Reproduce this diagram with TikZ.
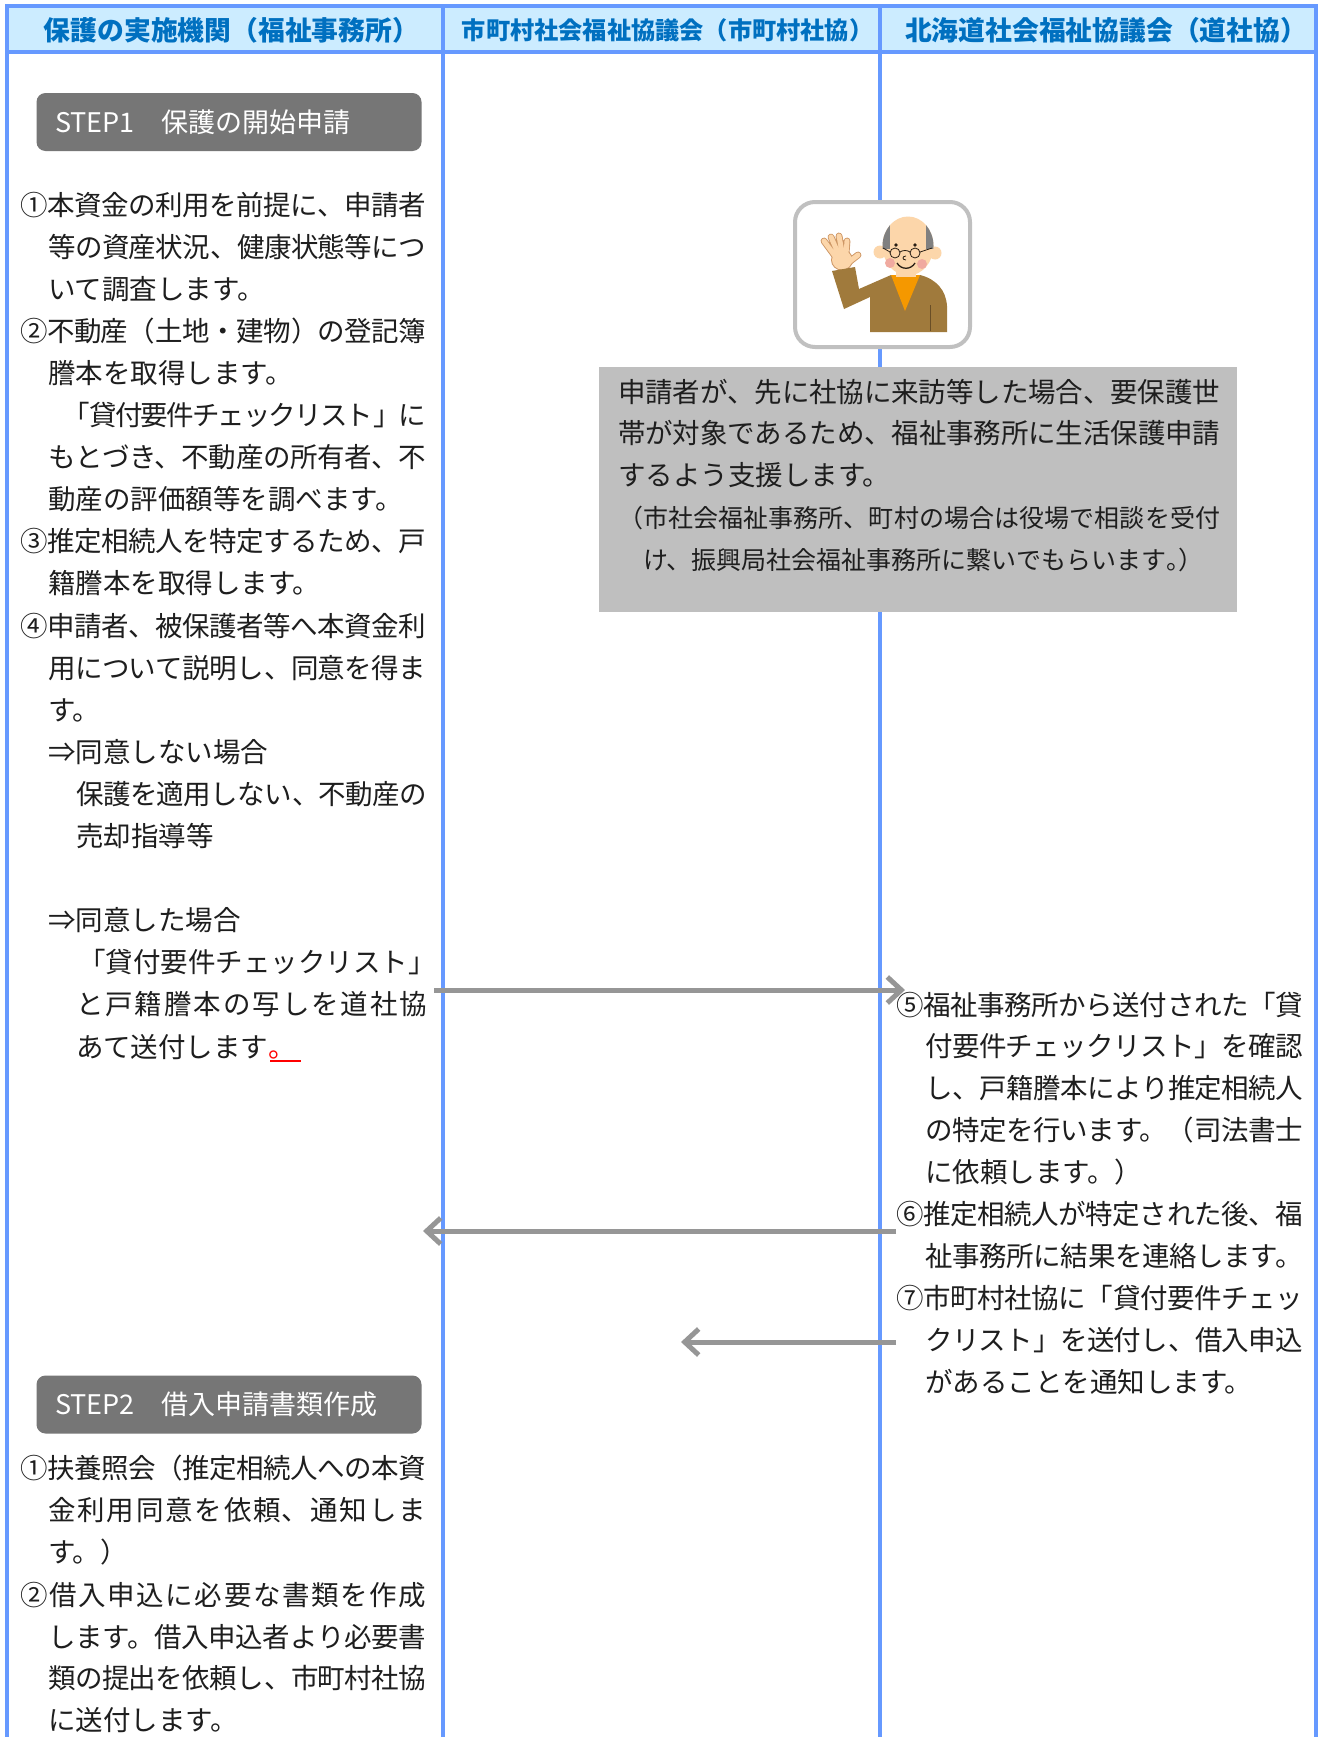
\documentclass[tikz,border=0pt]{standalone}
\usepackage{fontspec}
\setmainfont{Noto Sans CJK JP}
\usetikzlibrary{arrows.meta,calc}

% Japanese line breaking: stretchable glue between characters, so that a
% single line can be set flush to a given width
\XeTeXlinebreaklocale "ja"
\XeTeXlinebreakskip=0pt plus 4pt minus 3pt

\definecolor{lanefill}{RGB}{204,236,255}
\definecolor{laneline}{RGB}{102,153,255}
\definecolor{headtext}{RGB}{0,112,192}
\definecolor{stepfill}{RGB}{118,118,118}
\definecolor{notefill}{RGB}{191,191,191}
\definecolor{flowgray}{RGB}{150,150,150}
\definecolor{framegray}{RGB}{192,192,192}
\definecolor{bodyink}{RGB}{30,30,30}
\definecolor{skin}{RGB}{252,214,170}
\definecolor{handline}{RGB}{205,150,100}
\definecolor{sweater}{RGB}{160,122,60}
\definecolor{seam}{RGB}{105,78,38}
\definecolor{shirt}{RGB}{245,152,0}
\definecolor{hair}{RGB}{128,128,128}
\definecolor{cheek}{RGB}{240,170,160}
\definecolor{faceline}{RGB}{40,30,20}

% one line of text set flush to a width given in pt
\newcommand\fitline[2]{\parbox[b]{#1pt}{\parfillskip=0pt\tolerance=10000\hbadness=10000\relax #2}}
% punctuation set in half width
\newcommand\halfpunct[1]{{\addfontfeature{RawFeature=+halt}#1}}

\tikzset{
  lanehead/.style={inner sep=0, text=headtext, font=\fontsize{26.8}{30}\selectfont\bfseries},
  bodytext/.style={anchor=base west, inner sep=0, text=bodyink, font=\fontsize{27.5}{33}\selectfont},
  smalltext/.style={anchor=base west, inner sep=0, text=bodyink, font=\fontsize{25}{30}\selectfont},
  stepbox/.style={fill=stepfill, rounded corners=9, minimum width=385, minimum height=58,
    text width=348, inner xsep=18.5, inner ysep=0, align=left, text=white,
    font=\fontsize{27}{32}\selectfont},
  notebox/.style={fill=notefill, inner sep=0, minimum width=638, minimum height=245},
  portraitframe/.style={draw=framegray, line width=4, fill=white, rounded corners=20,
    inner sep=0, minimum width=175, minimum height=145},
  lane/.style={draw=laneline, line width=4},
  flow/.style={draw=flowgray, line width=5, -{Straight Barb[length=14pt,width=26pt]}},
}

\begin{document}
\begin{tikzpicture}[x=1pt,y=-1pt]
\useasboundingbox (0,0) rectangle (1319,1737);
\fill[white] (0,0) rectangle (1319,1737);

% ---------- lanes ----------
\fill[lanefill] (6.5,6) rectangle (1315.5,52);
\draw[lane] (6.5,1737) -- (6.5,6) -- (1315.5,6) -- (1315.5,1737);
\draw[lane] (6.5,52) -- (1315.5,52);
\draw[lane] (443,6) -- (443,1737);
\draw[lane] (880,6) -- (880,1737);

\node[lanehead] (h1) at (231.5,30) {保護の実施機関（福祉事務所）};
\node[lanehead, font=\fontsize{24.2}{28}\selectfont\bfseries] (h2) at (667.5,30.5) {市町村社会福祉協議会（市町村社協）};
\node[lanehead] (h3) at (1106,30) {北海道社会福祉協議会（道社協）};

% ---------- STEP 1 ----------
\node[stepbox] (step1) at (229,122) {STEP1　保護の開始申請};

\node[bodytext] (a01) at (20,215) {\fitline{406}{①本資金の利用を前提に、申請者}};
\node[bodytext] (a02) at (48,257.1) {\fitline{378}{等の資産状況、健康状態等につ}};
\node[bodytext] (a03) at (48,299.2) {いて調査します。};
\node[bodytext] (a04) at (20,341.3) {\fitline{406}{②不動産（土地・建物）の登記簿}};
\node[bodytext] (a05) at (48,383.4) {謄本を取得します。};
\node[bodytext] (a06) at (62,425.5) {\fitline{364}{「貸付要件チェックリスト」に}};
\node[bodytext] (a07) at (48,467.6) {\fitline{378}{もとづき、不動産の所有者、不}};
\node[bodytext] (a08) at (48,509.7) {動産の評価額等を調べます。};
\node[bodytext] (a09) at (20,551.8) {\fitline{406}{③推定相続人を特定するため、戸}};
\node[bodytext] (a10) at (48,593.9) {籍謄本を取得します。};
\node[bodytext] (a11) at (20,636) {\fitline{406}{④申請者、被保護者等へ本資金利}};
\node[bodytext] (a12) at (48,678.1) {\fitline{378}{用について説明し、同意を得ま}};
\node[bodytext] (a13) at (48,720.2) {す。};
\node[bodytext] (a14) at (48,762.3) {⇒同意しない場合};
\node[bodytext] (a15) at (76,804.4) {\fitline{351}{保護を適用しない、不動産の}};
\node[bodytext] (a16) at (76,846.5) {売却指導等};
\node[bodytext] (a18) at (48,930.7) {⇒同意した場合};
\node[bodytext] (a19) at (78,972.8) {「貸付要件チェックリスト」};
\node[bodytext] (a20) at (76,1014.9) {\fitline{351}{と戸籍謄本の写しを道社協}};
\node[bodytext] (a21) at (76,1057) {あて送付します};
\node[bodytext, text=red] (a21dot) at (a21.base east) {。};
\draw[red, line width=1.4] ($(a21dot.base west)+(2,4)$) -- ++(31,0);

% ---------- portrait of the applicant ----------
\node[portraitframe] (portrait) at (882.5,274.5) {};
\begin{scope}
  % raised hand
  \fill[handline] (842,260) ellipse (11 and 10.5);
  \draw[handline, line width=6.8, line cap=round]
    (835,256) -- (824,241) (838,253) -- (831,237) (842,252) -- (839,236)
    (846,254) -- (847,241) (849,262) -- (858,255);
  \fill[skin] (842,260) ellipse (10 and 9.5);
  \draw[skin, line width=5, line cap=round]
    (835,256) -- (824,241) (838,253) -- (831,237) (842,252) -- (839,236)
    (846,254) -- (847,241) (849,262) -- (858,255);
  % sweater with the raised arm
  \fill[sweater] (832,271) -- (844,309) -- (870,297) -- (870,332) -- (947,332)
    -- (947,306) .. controls (946,290) and (936,279) .. (920,275)
    -- (891,275) -- (859,289) -- (855,267) -- cycle;
  \fill[shirt] (891,275) -- (920,275) -- (905,311) -- cycle;
  \draw[seam, line width=1] (930,305) -- (930,331);
  % neck, ears, head
  \fill[skin] (896,264) rectangle (916,277);
  \fill[skin] (880,252) circle (6.5);
  \fill[skin] (935,253) circle (6.5);
  \fill[skin] (908,246) ellipse (25.5 and 29.5);
  \begin{scope}
    \clip (908,246) ellipse (25.5 and 29.5);
    \fill[hair] (880,221) rectangle (890,249);
    \fill[hair] (926,221) rectangle (936,249);
  \end{scope}
  % face
  \fill[cheek] (890,263) circle (5);
  \fill[cheek] (922,264) circle (5);
  \fill[faceline] (896,245) circle (1.8);
  \fill[faceline] (915,245) circle (1.8);
  \draw[faceline, line width=0.8]
    (895,253) circle (5) (915,253) circle (5)
    (900,252) .. controls (903,250) and (907,250) .. (910,252)
    (890,252) -- (883,248) (920,252) -- (932,248);
  \draw[faceline, line width=0.8] (906,256) .. controls (902,256) and (902,260) .. (906,260);
  \draw[faceline, line width=1.3] (897,263) .. controls (901,270) and (911,270) .. (915,263);
\end{scope}

% ---------- note on applications made at the council ----------
\node[notebox] (note) at (918,489.5) {};
\node[bodytext] (n1) at (618,402) {\fitline{602}{申請者が、先に社協に来訪等した場合、要保護世}};
\node[bodytext] (n2) at (618,443) {\fitline{602}{帯が対象であるため、福祉事務所に生活保護申請}};
\node[bodytext] (n3) at (618,485) {するよう支援します。};
\node[smalltext] (n4) at (618,527) {\fitline{602}{（市社会福祉事務所、町村の場合は役場で相談を受付}};
\node[smalltext] (n5) at (643,569) {け、振興局社会福祉事務所に繋いでもらいます\halfpunct{。）}};

% ---------- Hokkaido council ----------
\node[bodytext] (c01) at (896,1015) {\fitline{407}{⑤福祉事務所から送付された「貸}};
\node[bodytext] (c02) at (925,1056.9) {\fitline{378}{付要件チェックリスト」を確認}};
\node[bodytext] (c03) at (925,1098.8) {\fitline{378}{し、戸籍謄本により推定相続人}};
\node[bodytext] (c04) at (925,1140.7) {\fitline{378}{の特定を行います。（司法書士}};
\node[bodytext] (c05) at (925,1182.6) {に依頼します。）};
\node[bodytext] (c06) at (896,1224.5) {\fitline{407}{⑥推定相続人が特定された後、福}};
\node[bodytext] (c07) at (925,1266.4) {\fitline{378}{祉事務所に結果を連絡します。}};
\node[bodytext] (c08) at (896,1308.3) {\fitline{407}{⑦市町村社協に「貸付要件チェッ}};
\node[bodytext] (c09) at (925,1350.2) {\fitline{378}{クリスト」を送付し、借入申込}};
\node[bodytext] (c10) at (925,1392.1) {があることを通知します。};

% ---------- STEP 2 ----------
\node[stepbox] (step2) at (229,1404.5) {STEP2　借入申請書類作成};

\node[bodytext] (b01) at (20,1478) {\fitline{406}{①扶養照会（推定相続人への本資}};
\node[bodytext] (b02) at (48,1520) {\fitline{378}{金利用同意を依頼、通知しま}};
\node[bodytext] (b03) at (48,1562) {す。）};
\node[bodytext] (b04) at (20,1605) {\fitline{406}{②借入申込に必要な書類を作成}};
\node[bodytext] (b05) at (48,1647) {\fitline{378}{します。借入申込者より必要書}};
\node[bodytext] (b06) at (48,1688) {\fitline{378}{類の提出を依頼し、市町村社協}};
\node[bodytext] (b07) at (48,1730) {に送付します。};

% ---------- document flow ----------
\coordinate (f1a) at (434,990);
\coordinate (f1b) at (905,990);
\coordinate (f2a) at (896,1231);
\coordinate (f2b) at (423,1231);
\coordinate (f3a) at (896,1342);
\coordinate (f3b) at (681,1342);
\draw[flow] (f1a) -- (f1b);
\draw[flow] (f2a) -- (f2b);
\draw[flow] (f3a) -- (f3b);
\end{tikzpicture}
\end{document}
